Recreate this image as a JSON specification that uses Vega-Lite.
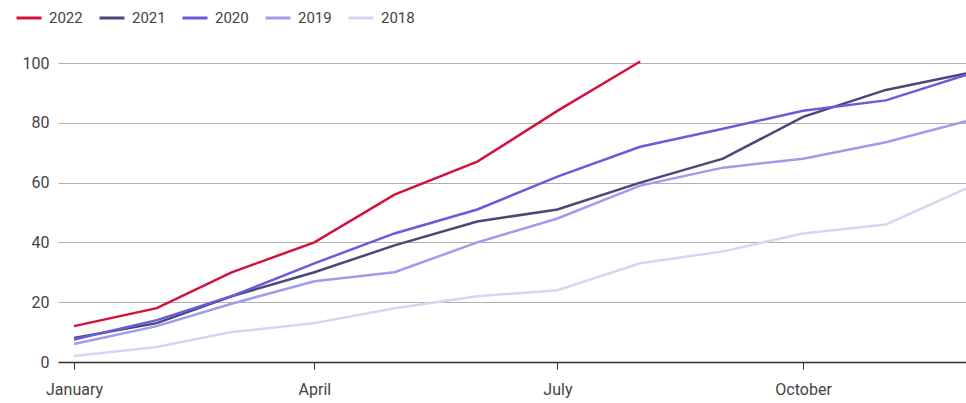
{
  "$schema": "https://vega.github.io/schema/vega-lite/v6.json",
  "width": 908,
  "height": 299,
  "autosize": "none",
  "padding": {"left": 58, "top": 63, "right": 0, "bottom": 41},
  "background": "white",
  "config": {
    "font": "Roboto",
    "view": {"stroke": null}
  },
  "data": {
    "values": [
      {"year": "2022", "date": "2022-01-01T00:00:00", "value": 12},
      {"year": "2022", "date": "2022-02-01T00:00:00", "value": 18},
      {"year": "2022", "date": "2022-03-01T00:00:00", "value": 30},
      {"year": "2022", "date": "2022-04-01T00:00:00", "value": 40},
      {"year": "2022", "date": "2022-05-01T00:00:00", "value": 56},
      {"year": "2022", "date": "2022-06-01T00:00:00", "value": 67},
      {"year": "2022", "date": "2022-07-01T00:00:00", "value": 84},
      {"year": "2022", "date": "2022-08-01T00:00:00", "value": 100.5},
      {"year": "2021", "date": "2022-01-01T00:00:00", "value": 8},
      {"year": "2021", "date": "2022-02-01T00:00:00", "value": 13},
      {"year": "2021", "date": "2022-03-01T00:00:00", "value": 22},
      {"year": "2021", "date": "2022-04-01T00:00:00", "value": 30},
      {"year": "2021", "date": "2022-05-01T00:00:00", "value": 39},
      {"year": "2021", "date": "2022-06-01T00:00:00", "value": 47},
      {"year": "2021", "date": "2022-07-01T00:00:00", "value": 51},
      {"year": "2021", "date": "2022-08-01T00:00:00", "value": 60},
      {"year": "2021", "date": "2022-09-01T00:00:00", "value": 68},
      {"year": "2021", "date": "2022-10-01T00:00:00", "value": 82},
      {"year": "2021", "date": "2022-11-01T00:00:00", "value": 91},
      {"year": "2021", "date": "2022-12-01T00:00:00", "value": 96.5},
      {"year": "2020", "date": "2022-01-01T00:00:00", "value": 7.5},
      {"year": "2020", "date": "2022-02-01T00:00:00", "value": 14},
      {"year": "2020", "date": "2022-03-01T00:00:00", "value": 22},
      {"year": "2020", "date": "2022-04-01T00:00:00", "value": 33},
      {"year": "2020", "date": "2022-05-01T00:00:00", "value": 43},
      {"year": "2020", "date": "2022-06-01T00:00:00", "value": 51},
      {"year": "2020", "date": "2022-07-01T00:00:00", "value": 62},
      {"year": "2020", "date": "2022-08-01T00:00:00", "value": 72},
      {"year": "2020", "date": "2022-09-01T00:00:00", "value": 78},
      {"year": "2020", "date": "2022-10-01T00:00:00", "value": 84},
      {"year": "2020", "date": "2022-11-01T00:00:00", "value": 87.5},
      {"year": "2020", "date": "2022-12-01T00:00:00", "value": 96},
      {"year": "2019", "date": "2022-01-01T00:00:00", "value": 6},
      {"year": "2019", "date": "2022-02-01T00:00:00", "value": 12},
      {"year": "2019", "date": "2022-03-01T00:00:00", "value": 19.5},
      {"year": "2019", "date": "2022-04-01T00:00:00", "value": 27},
      {"year": "2019", "date": "2022-05-01T00:00:00", "value": 30},
      {"year": "2019", "date": "2022-06-01T00:00:00", "value": 40},
      {"year": "2019", "date": "2022-07-01T00:00:00", "value": 48},
      {"year": "2019", "date": "2022-08-01T00:00:00", "value": 59},
      {"year": "2019", "date": "2022-09-01T00:00:00", "value": 65},
      {"year": "2019", "date": "2022-10-01T00:00:00", "value": 68},
      {"year": "2019", "date": "2022-11-01T00:00:00", "value": 73.5},
      {"year": "2019", "date": "2022-12-01T00:00:00", "value": 80.5},
      {"year": "2018", "date": "2022-01-01T00:00:00", "value": 2},
      {"year": "2018", "date": "2022-02-01T00:00:00", "value": 5},
      {"year": "2018", "date": "2022-03-01T00:00:00", "value": 10},
      {"year": "2018", "date": "2022-04-01T00:00:00", "value": 13},
      {"year": "2018", "date": "2022-05-01T00:00:00", "value": 18},
      {"year": "2018", "date": "2022-06-01T00:00:00", "value": 22},
      {"year": "2018", "date": "2022-07-01T00:00:00", "value": 24},
      {"year": "2018", "date": "2022-08-01T00:00:00", "value": 33},
      {"year": "2018", "date": "2022-09-01T00:00:00", "value": 37},
      {"year": "2018", "date": "2022-10-01T00:00:00", "value": 43},
      {"year": "2018", "date": "2022-11-01T00:00:00", "value": 46},
      {"year": "2018", "date": "2022-12-01T00:00:00", "value": 58}
    ]
  },
  "mark": {"type": "line", "strokeWidth": 2.5, "clip": false},
  "encoding": {
    "x": {
      "field": "date",
      "type": "temporal",
      "scale": {"domain": [{"year": 2021, "month": 12, "date": 26}, {"year": 2022, "month": 12, "date": 1}]},
      "axis": {
        "title": null,
        "values": [
          {"year": 2022, "month": 1, "date": 1},
          {"year": 2022, "month": 4, "date": 1},
          {"year": 2022, "month": 7, "date": 1},
          {"year": 2022, "month": 10, "date": 1}
        ],
        "format": "%B",
        "grid": false,
        "domain": true,
        "domainColor": "#333333",
        "domainWidth": 1.5,
        "ticks": true,
        "tickColor": "#333333",
        "tickSize": 7,
        "tickWidth": 1,
        "labelPadding": 12,
        "labelFontSize": 16,
        "labelColor": "#444444",
        "labelFont": "Roboto",
        "zindex": 1
      }
    },
    "y": {
      "field": "value",
      "type": "quantitative",
      "scale": {"domain": [0, 100], "nice": false},
      "axis": {
        "title": null,
        "values": [0, 20, 40, 60, 80, 100],
        "grid": true,
        "gridColor": "#b0b0b0",
        "gridWidth": 1,
        "domain": false,
        "ticks": false,
        "labelPadding": 9,
        "labelFontSize": 16,
        "labelColor": "#444444",
        "labelFont": "Roboto"
      }
    },
    "color": {
      "field": "year",
      "type": "nominal",
      "scale": {
        "domain": ["2022", "2021", "2020", "2019", "2018"],
        "range": ["#d2123c", "#4a4878", "#6a5add", "#a09cec", "#d3d7f2"]
      },
      "legend": {
        "title": null,
        "orient": "none",
        "legendX": -43,
        "legendY": -59,
        "direction": "horizontal",
        "padding": 0,
        "symbolType": "stroke",
        "symbolSize": 625,
        "symbolStrokeWidth": 3,
        "labelOffset": 6,
        "columnPadding": 10,
        "labelFontSize": 15,
        "labelColor": "#444444",
        "labelFont": "Roboto"
      }
    }
  }
}
